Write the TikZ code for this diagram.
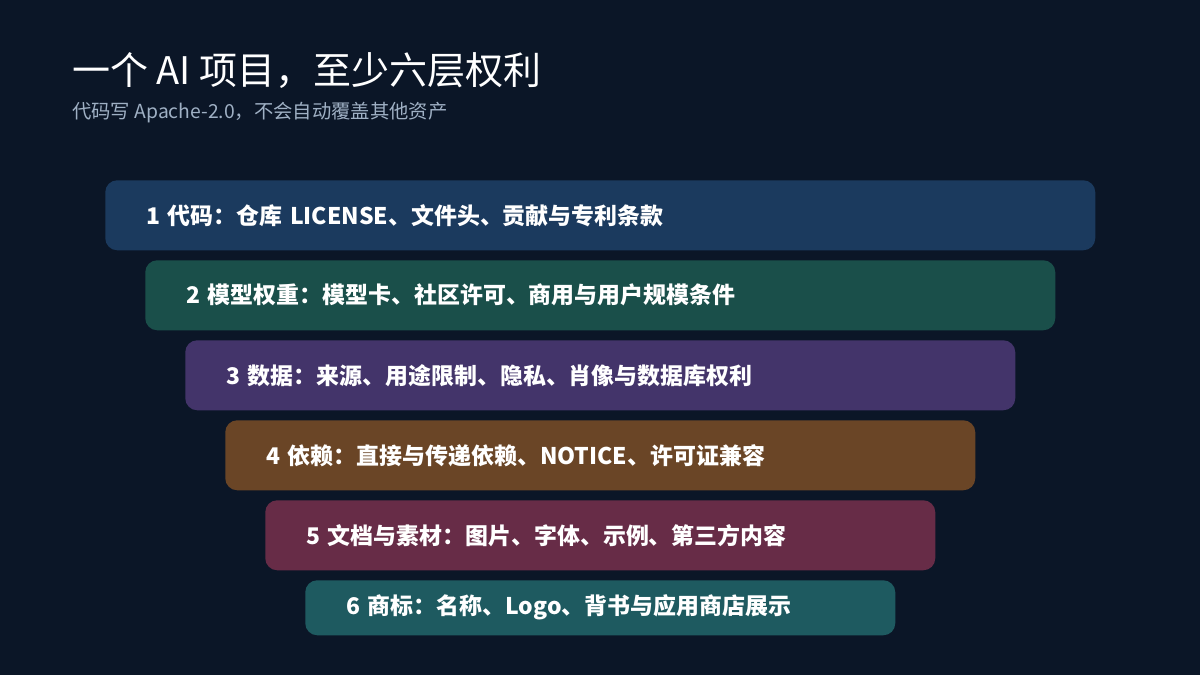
\documentclass[tikz,border=0pt]{standalone}
\usepackage{fontspec}
\setmainfont{Noto Sans CJK SC}
\usetikzlibrary{positioning}

\definecolor{bgnavy}{HTML}{0B1627}
\definecolor{subgray}{HTML}{9FB0C4}
\definecolor{codeblue}{HTML}{1B3A5E}
\definecolor{weightgreen}{HTML}{1A4F4A}
\definecolor{datapurple}{HTML}{43346A}
\definecolor{depbrown}{HTML}{6A4526}
\definecolor{docplum}{HTML}{672C47}
\definecolor{marktea}{HTML}{1E5A60}

\tikzset{
  layer/.style={rectangle, rounded corners=12*0.75pt, anchor=north west,
    inner xsep=41*0.75pt, inner ysep=0pt, text=white, align=left,
    font=\bfseries\fontsize{17.2pt}{20pt}\selectfont},
  headline/.style={anchor=base west, inner sep=0pt, text=white,
    font=\fontsize{28.5pt}{34pt}\selectfont},
  subline/.style={anchor=base west, inner sep=0pt, text=subgray,
    font=\fontsize{14.5pt}{17pt}\selectfont}
}

\begin{document}
\begin{tikzpicture}[x=0.75pt, y=-0.75pt]
\fill [bgnavy] (0,0) rectangle (1200,675);
\useasboundingbox (0,0) rectangle (1200,675);
% title and subtitle
\node[headline] (title) at (72,84) {一个 AI 项目，至少六层权利};
\node[subline] (subtitle) at (72,118) {代码写 Apache-2.0，不会自动覆盖其他资产};
% six stacked layers, each inset 40px per side
\foreach \i/\c/\h/\t in {
    1/codeblue/70/1 代码：仓库 LICENSE、文件头、贡献与专利条款,
    2/weightgreen/70/2 模型权重：模型卡、社区许可、商用与用户规模条件,
    3/datapurple/70/3 数据：来源、用途限制、隐私、肖像与数据库权利,
    4/depbrown/70/4 依赖：直接与传递依赖、NOTICE、许可证兼容,
    5/docplum/70/5 文档与素材：图片、字体、示例、第三方内容,
    6/marktea/55/6 商标：名称、Logo、背书与应用商店展示} {
    \node[layer, fill=\c, text width={(990-80*(\i-1)-82)*0.75pt},
      minimum height={\h*0.75pt}] (layer\i)
      at ({105+40*(\i-1)},{180+80*(\i-1)}) {\t};
}
\end{tikzpicture}
\end{document}
